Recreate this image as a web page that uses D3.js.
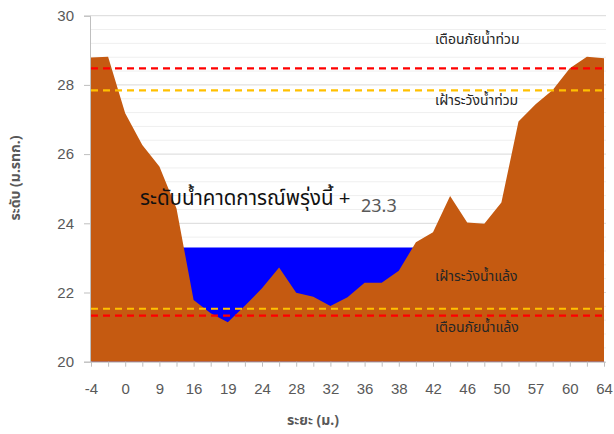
<!DOCTYPE html>
<html><head><meta charset="utf-8">
<script src="https://cdn.jsdelivr.net/npm/d3@7"></script>
<style>
body{margin:0;background:#fff;}
svg{display:block;font-family:"Noto Sans","Noto Sans Thai","Leelawadee UI",Tahoma,"DejaVu Sans",sans-serif;}
</style></head>
<body><svg id="c" width="614" height="434"></svg>
<script>
// distance categories (every second one is labelled on the axis)
const categories = [-4,-2,0,5,9,13,16,17,19,22,24,26,28,30,32,34,36,37,38,40,42,44,46,48,50,53,57,59,60,62,64];
// ground elevation (m. MSL)
const ground = [28.79,28.81,27.18,26.26,25.64,24.43,21.78,21.40,21.14,21.62,22.12,22.72,21.99,21.88,21.61,21.86,22.28,22.28,22.63,23.45,23.74,24.79,24.02,23.99,24.60,26.94,27.44,27.85,28.48,28.81,28.77];
const forecastLevel = 23.3;
const floodWarning = 28.48, floodWatch = 27.84, droughtWatch = 21.53, droughtWarning = 21.33;
const yTicks = [20,22,24,26,28,30];
const texts = {
  forecast: "ระดับน้ำคาดการณ์พรุ่งนี้ +",
  floodWarning: "เตือนภัยน้ำท่วม",
  floodWatch: "เฝ้าระวังน้ำท่วม",
  droughtWatch: "เฝ้าระวังน้ำแล้ง",
  droughtWarning: "เตือนภัยน้ำแล้ง",
  yTitle: "ระดับ (ม.รทก.)",
  xTitle: "ระยะ (ม.)"
};

const svg = d3.select("#c");
const idx = d3.range(categories.length);
const x = d3.scalePoint().domain(idx).range([91, 604]);
const y = d3.scaleLinear().domain([20, 30]).range([361.7, 15.7]);
const x0 = 90, x1 = 606;

// grid
const minor = d3.range(20, 30.001, 0.4).filter(v => Math.abs(v/2 - Math.round(v/2)) > 1e-6);
svg.append("g").selectAll("line").data(minor).join("line")
  .attr("x1", x0).attr("x2", x1).attr("y1", d => y(d)).attr("y2", d => y(d))
  .attr("stroke", "#efefef").attr("stroke-width", 1);
svg.append("g").selectAll("line").data(yTicks.filter(v => v > 20)).join("line")
  .attr("x1", x0).attr("x2", x1).attr("y1", d => y(d)).attr("y2", d => y(d))
  .attr("stroke", "#d9d9d9").attr("stroke-width", 1);

// water area (behind ground)
const water = d3.area().x(i => x(i)).y0(y(20)).y1(y(forecastLevel));
svg.append("path").datum(idx).attr("d", water).attr("fill", "#0000ff");

// ground
const area = d3.area().x(i => x(i)).y0(y(20)).y1(i => y(ground[i]));
svg.append("path").datum(idx).attr("d", area).attr("fill", "#c55a11");

// threshold dashed lines
const thr = [[floodWarning, "#ff0000"], [floodWatch, "#ffc000"], [droughtWatch, "#ffc000"], [droughtWarning, "#ff0000"]];
svg.append("g").selectAll("line").data(thr).join("line")
  .attr("x1", x0 + 1).attr("x2", x1).attr("y1", d => y(d[0])).attr("y2", d => y(d[0]))
  .attr("stroke", d => d[1]).attr("stroke-width", 2.2).attr("stroke-dasharray", "7,5");

// y axis
const yAxis = d3.axisLeft(y).tickValues(yTicks).tickSize(6).tickPadding(10).tickFormat(d3.format("d"));
const gy = svg.append("g").attr("transform", `translate(${x0},0)`).call(yAxis);
gy.select(".domain").attr("stroke", "#bfbfbf");
gy.selectAll(".tick line").attr("stroke", "#bfbfbf");
gy.selectAll(".tick text").attr("fill", "#595959").style("font-size", "15px").style("font-family", "inherit");

// x axis
const xAxis = d3.axisBottom(x).tickSize(5).tickPadding(17)
  .tickFormat(i => i % 2 === 0 ? categories[i] : "");
const gx = svg.append("g").attr("transform", `translate(0,${y(20)})`).call(xAxis);
gx.select(".domain").attr("stroke", "#bfbfbf").attr("d", `M${x0},0.5H${x1}`);
gx.selectAll(".tick line").attr("stroke", "#bfbfbf");
gx.selectAll(".tick text").attr("fill", "#595959").style("font-size", "15px").style("font-family", "inherit");

// annotations
svg.append("text").attr("x", 140).attr("y", 205).attr("fill", "#111")
  .style("font-size", "20.5px").text(texts.forecast);
svg.append("text").attr("x", 361).attr("y", 212).attr("fill", "#595959")
  .style("font-size", "18px").text(d3.format(".1f")(forecastLevel));

const lab = [[texts.floodWarning, 44], [texts.floodWatch, 105], [texts.droughtWatch, 281], [texts.droughtWarning, 332]];
svg.append("g").selectAll("text").data(lab).join("text")
  .attr("x", 435).attr("y", d => d[1]).attr("fill", "#262626")
  .style("font-size", "14px").text(d => d[0]);

// axis titles
svg.append("text").attr("transform", "translate(20,178) rotate(-90)").attr("text-anchor", "middle")
  .attr("fill", "#595959").style("font-size", "14px").style("font-weight", "bold").text(texts.yTitle);
svg.append("text").attr("x", 313).attr("y", 425).attr("text-anchor", "middle")
  .attr("fill", "#595959").style("font-size", "14px").style("font-weight", "bold").text(texts.xTitle);
</script></body></html>
